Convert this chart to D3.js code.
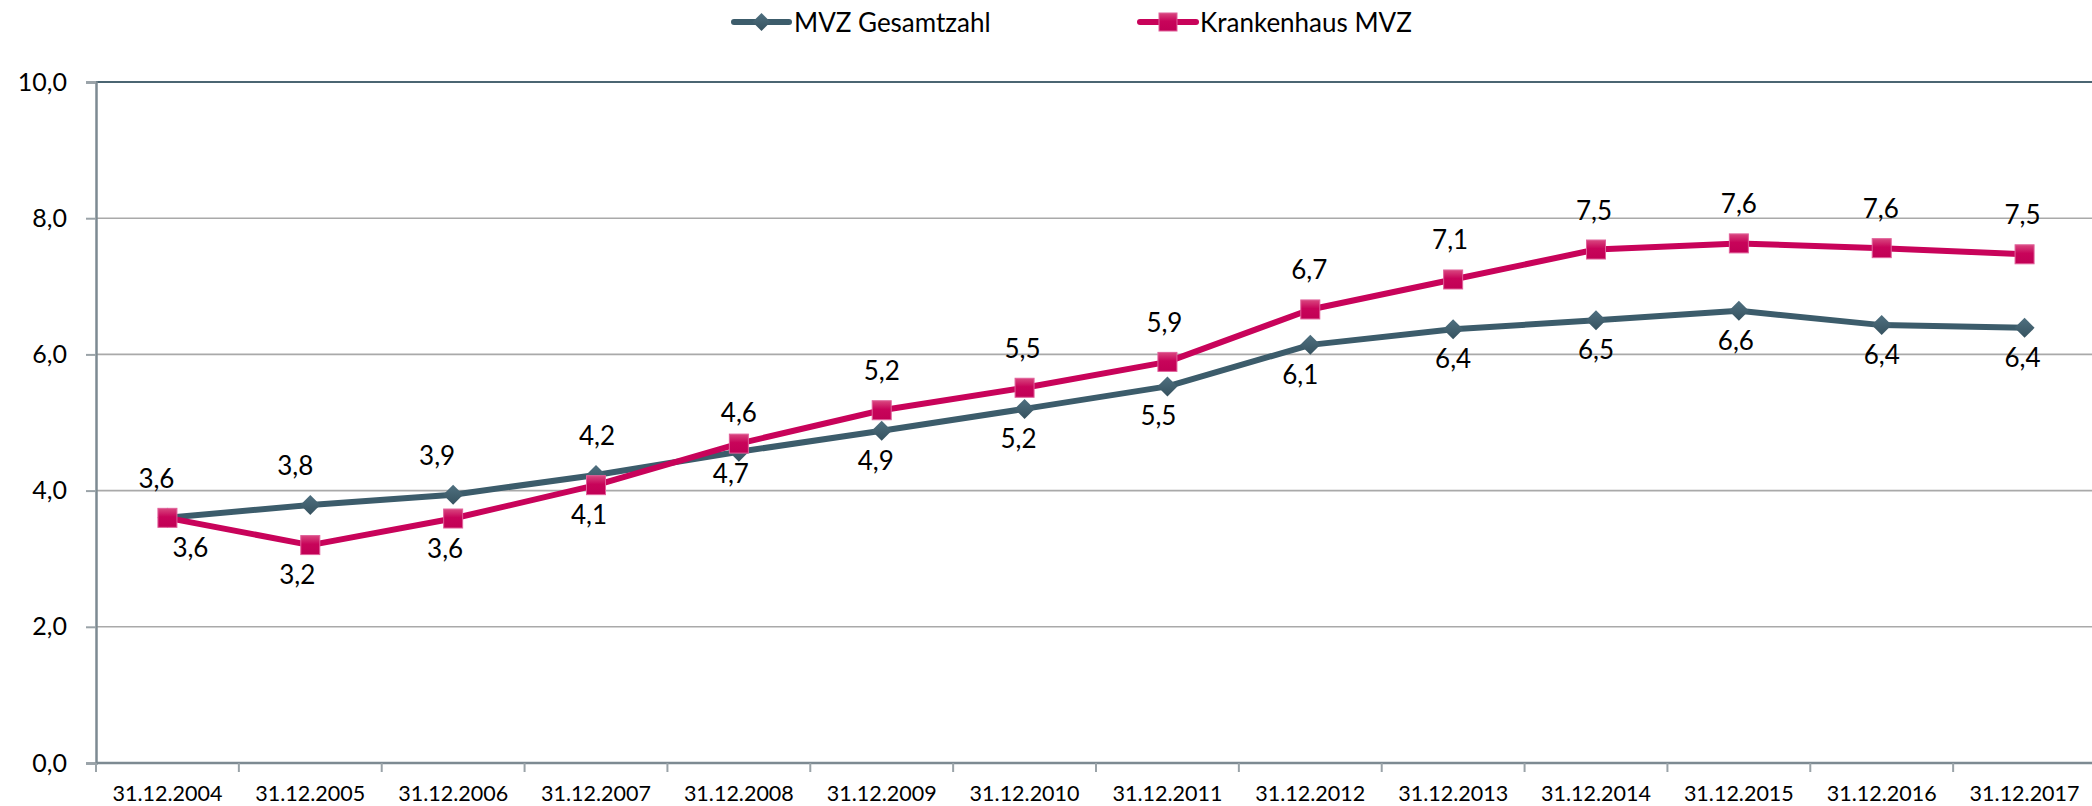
<!DOCTYPE html>
<html>
<head>
<meta charset="utf-8">
<script src="https://cdn.jsdelivr.net/npm/d3@7"></script>
<style>
  html, body { margin: 0; padding: 0; background: #fff; }
  svg { display: block; font-family: Lato, "Open Sans", sans-serif; }
</style>
</head>
<body>
<svg id="chart" width="2092" height="806"></svg>
<script>
// Stichtage (categories)
const dates = ["31.12.2004","31.12.2005","31.12.2006","31.12.2007","31.12.2008","31.12.2009",
               "31.12.2010","31.12.2011","31.12.2012","31.12.2013","31.12.2014","31.12.2015",
               "31.12.2016","31.12.2017"];

// Series values
const mvzGesamt      = [3.60, 3.79, 3.94, 4.23, 4.57, 4.88, 5.20, 5.53, 6.14, 6.37, 6.50, 6.64, 6.43, 6.39];
const krankenhausMvz = [3.60, 3.20, 3.59, 4.08, 4.69, 5.18, 5.51, 5.89, 6.66, 7.10, 7.54, 7.63, 7.56, 7.47];

// Series names
const seriesNames = ["MVZ Gesamtzahl", "Krankenhaus MVZ"];

// Y axis ticks
const yTicks = [0, 2, 4, 6, 8, 10];

// Label side per point (above / below the marker)
const mvzLabelSide = ["above","above","above","above","above","below","below","below","below","below","below","below","below","below"];
const khLabelSide  = ["below","below","below","below","below","above","above","above","above","above","above","above","above","above"];

// Horizontal label nudges (px) to keep labels clear of lines and each other
const mvzLabelNudge = [-11, -15, -16, 1, 0, -6, -6, -9, -10, 0, 0, -3, 0, -2];
const khLabelNudge  = [23, -13, -8, -7, -8, 0, -2, -3, -1, -3, -2, 0, -1, -2];

const fmt = v => d3.format(".1f")(v).replace(".", ",");

const svg = d3.select("#chart");
const W = 2092, H = 806;
const plot = { left: 96, right: 2096, top: 82, bottom: 763 };

const x = d3.scaleBand().domain(dates).range([plot.left, plot.right]).padding(0);
const cx = d => x(d) + x.bandwidth() / 2;
const y = d3.scaleLinear().domain([0, 10]).range([plot.bottom, plot.top]);

const COL_MVZ = "#3c5c6b";
const COL_KH  = "#c8035a";

// gradients for markers
const defs = svg.append("defs");
const gK = defs.append("linearGradient").attr("id", "gradKH").attr("x1", 0).attr("y1", 0).attr("x2", 0).attr("y2", 1);
gK.append("stop").attr("offset", "0%").attr("stop-color", "#d9477f");
gK.append("stop").attr("offset", "45%").attr("stop-color", "#c8045a");
gK.append("stop").attr("offset", "100%").attr("stop-color", "#c10055");
const gM = defs.append("linearGradient").attr("id", "gradMVZ").attr("x1", 0).attr("y1", 0).attr("x2", 0).attr("y2", 1);
gM.append("stop").attr("offset", "0%").attr("stop-color", "#4f7080");
gM.append("stop").attr("offset", "100%").attr("stop-color", "#36525f");

// horizontal gridlines
svg.append("g").selectAll("line")
  .data(yTicks.filter(t => t > 0 && t < 10))
  .join("line")
  .attr("x1", plot.left).attr("x2", W)
  .attr("y1", d => y(d)).attr("y2", d => y(d))
  .attr("stroke", "#a9a9a9").attr("stroke-width", 1.6);

// top line at 10
svg.append("line")
  .attr("x1", plot.left).attr("x2", W)
  .attr("y1", y(10)).attr("y2", y(10))
  .attr("stroke", "#4b6572").attr("stroke-width", 2);

// Y axis
const yAxis = d3.axisLeft(y).tickValues(yTicks).tickFormat(fmt).tickSize(10).tickPadding(19);
const gy = svg.append("g").attr("transform", `translate(${plot.left},0)`).call(yAxis);
gy.select(".domain").attr("stroke", "#7d8a92").attr("stroke-width", 2.5);
gy.selectAll(".tick line").attr("stroke", "#9aa3a8").attr("stroke-width", 2);
gy.selectAll(".tick text").attr("font-size", 25).attr("fill", "#000").attr("font-family", "Lato");

// X axis (labels centred in bands, ticks on band edges)
const xAxis = d3.axisBottom(x).tickSize(0).tickPadding(23);
const gx = svg.append("g").attr("transform", `translate(0,${plot.bottom})`).call(xAxis);
gx.select(".domain").remove();
gx.selectAll(".tick text").attr("font-size", 21.5).attr("fill", "#000").attr("font-family", "Lato");
svg.append("line")
  .attr("x1", plot.left).attr("x2", W)
  .attr("y1", plot.bottom).attr("y2", plot.bottom)
  .attr("stroke", "#7d8a92").attr("stroke-width", 2.5);
svg.append("g").selectAll("line")
  .data(dates)
  .join("line")
  .attr("x1", d => x(d)).attr("x2", d => x(d))
  .attr("y1", plot.bottom).attr("y2", plot.bottom + 9)
  .attr("stroke", "#9aa3a8").attr("stroke-width", 2);

// lines
const line = d3.line().x(d => cx(d.date)).y(d => y(d.v));
const mvzData = dates.map((d, i) => ({ date: d, v: mvzGesamt[i], side: mvzLabelSide[i], dx: mvzLabelNudge[i] }));
const khData  = dates.map((d, i) => ({ date: d, v: krankenhausMvz[i], side: khLabelSide[i], dx: khLabelNudge[i] }));

svg.append("path").datum(mvzData).attr("d", line)
  .attr("fill", "none").attr("stroke", COL_MVZ).attr("stroke-width", 6).attr("stroke-linejoin", "round");
svg.append("path").datum(khData).attr("d", line)
  .attr("fill", "none").attr("stroke", COL_KH).attr("stroke-width", 6).attr("stroke-linejoin", "round");

// markers
const diamond = (s) => `M0,${-s} L${s},0 L0,${s} L${-s},0 Z`;
svg.append("g").selectAll("path")
  .data(mvzData).join("path")
  .attr("transform", d => `translate(${cx(d.date)},${y(d.v)})`)
  .attr("d", diamond(10))
  .attr("fill", "url(#gradMVZ)");
svg.append("g").selectAll("rect")
  .data(khData).join("rect")
  .attr("x", d => cx(d.date) - 9.5).attr("y", d => y(d.v) - 9.5)
  .attr("width", 19).attr("height", 19)
  .attr("fill", "url(#gradKH)")
  .attr("stroke", "#e0609a").attr("stroke-width", 1);

// data labels
function labels(data) {
  svg.append("g").selectAll("text")
    .data(data).join("text")
    .attr("x", d => cx(d.date) + d.dx)
    .attr("y", d => y(d.v) + (d.side === "above" ? -30 : 39))
    .attr("text-anchor", "middle")
    .attr("font-size", 26)
    .attr("font-family", "Lato")
    .attr("fill", "#000")
    .text(d => fmt(d.v));
}
labels(mvzData);
labels(khData);

// legend
const legend = svg.append("g");
const legItems = [
  { name: seriesNames[0], color: COL_MVZ, x0: 734, x1: 789, tx: 794, marker: "diamond" },
  { name: seriesNames[1], color: COL_KH,  x0: 1140, x1: 1196, tx: 1200, marker: "square" }
];
legItems.forEach(it => {
  const ly = 22;
  legend.append("line").attr("x1", it.x0).attr("x2", it.x1).attr("y1", ly).attr("y2", ly)
    .attr("stroke", it.color).attr("stroke-width", 6).attr("stroke-linecap", "round");
  const mx = (it.x0 + it.x1) / 2;
  if (it.marker === "diamond") {
    legend.append("path").attr("transform", `translate(${mx},${ly})`).attr("d", diamond(9)).attr("fill", "url(#gradMVZ)");
  } else {
    legend.append("rect").attr("x", mx - 9).attr("y", ly - 9).attr("width", 18).attr("height", 18)
      .attr("fill", "url(#gradKH)").attr("stroke", "#e0609a").attr("stroke-width", 1);
  }
  legend.append("text").attr("x", it.tx).attr("y", ly + 10)
    .attr("font-size", 26).attr("font-family", "Lato").attr("fill", "#000").text(it.name);
});
</script>
</body>
</html>
